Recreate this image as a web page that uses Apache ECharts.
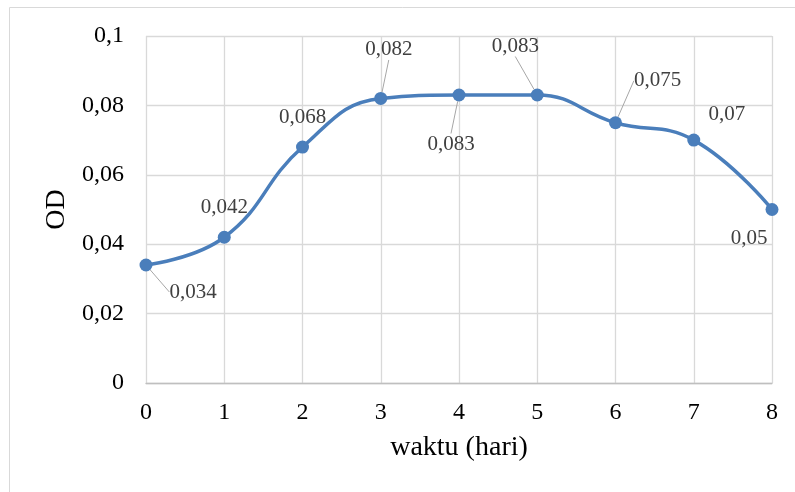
<!DOCTYPE html>
<html><head><meta charset="utf-8">
<script src="https://cdn.jsdelivr.net/npm/echarts@6/dist/echarts.min.js"></script>
<style>html,body{margin:0;padding:0;background:#fff}#c{width:795px;height:492px}</style>
</head><body><div id="c"></div>
<script>
const days = [0, 1, 2, 3, 4, 5, 6, 7, 8];
const odValues = [0.034, 0.042, 0.068, 0.082, 0.083, 0.083, 0.075, 0.07, 0.05];
const xTicks = [0, 1, 2, 3, 4, 5, 6, 7, 8];
const yTicks = [0, 0.02, 0.04, 0.06, 0.08, 0.1];

// label placement (style, not data)
const labelShift = [[47, 49], [0, -8], [0, -8], [8, -27], [-8, 71], [-22, -27], [42, -20], [33, -4], [-23, 51]];
const showGuide = [true, false, false, true, true, true, true, false, false];

const fmt = v => String(+(+v).toFixed(3)).replace('.', ',');
const FONT = '"Liberation Serif", "Times New Roman", serif';

const chart = echarts.init(document.getElementById('c'), null, {renderer: 'canvas'});
chart.setOption({
  animation: false,
  graphic: [{type: 'rect', shape: {x: 9.5, y: 7.5, width: 820, height: 520}, style: {fill: 'none', stroke: '#d9d9d9', lineWidth: 1}, silent: true}],
  grid: {left: 146, right: 23, top: 36, bottom: 109},
  xAxis: {
    type: 'value', min: xTicks[0], max: xTicks[xTicks.length - 1], interval: 1,
    name: 'waktu (hari)', nameLocation: 'middle', nameGap: 51,
    nameTextStyle: {fontFamily: FONT, fontSize: 28, color: '#000'},
    axisLine: {show: true, lineStyle: {color: '#bfbfbf', width: 1.3}},
    axisTick: {show: false},
    axisLabel: {fontFamily: FONT, fontSize: 24, color: '#000', margin: 18},
    splitLine: {show: true, lineStyle: {color: '#d9d9d9', width: 1.3}}
  },
  yAxis: {
    type: 'value', min: yTicks[0], max: yTicks[yTicks.length - 1], interval: 0.02,
    name: 'OD', nameLocation: 'middle', nameGap: 75, nameRotate: 90,
    nameTextStyle: {fontFamily: FONT, fontSize: 28, color: '#000'},
    axisLine: {show: false}, axisTick: {show: false},
    axisLabel: {fontFamily: FONT, fontSize: 24, color: '#000', margin: 22, formatter: fmt},
    splitLine: {show: true, lineStyle: {color: '#d9d9d9', width: 1.3}}
  },
  series: [{
    type: 'line',
    smooth: 0.45,
    data: days.map((d, i) => ({
      value: [d, odValues[i]],
      labelLine: {show: showGuide[i]}
    })),
    lineStyle: {color: '#4a7ebb', width: 3.5},
    itemStyle: {color: '#4a7ebb'},
    symbol: 'circle', symbolSize: 13,
    label: {
      show: true, position: 'top', distance: 5,
      fontFamily: FONT, fontSize: 21, color: '#404040',
      formatter: p => fmt(p.value[1])
    },
    labelLine: {show: true, lineStyle: {color: '#a6a6a6', width: 1}},
    labelLayout: p => ({dx: labelShift[p.dataIndex][0], dy: labelShift[p.dataIndex][1]})
  }]
});
</script></body></html>
